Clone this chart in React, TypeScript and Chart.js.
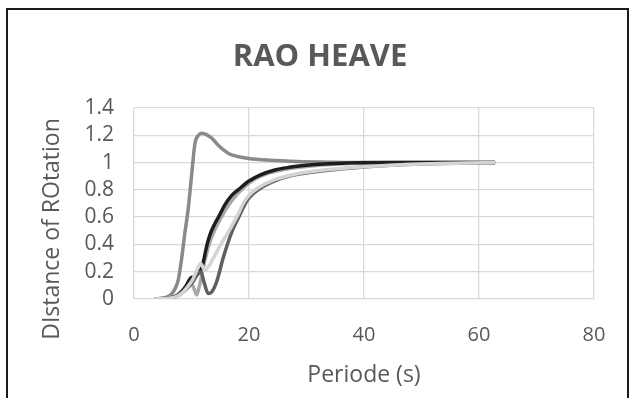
import React, { useEffect, useRef } from "react";
import { Chart, registerables } from "chart.js";

Chart.register(...registerables);

// Series: medium gray (resonance peak)
const peakPeriod = [3.5, 5, 6, 6.6, 7.2, 7.7, 8.3, 8.8, 9.4, 10, 10.6, 11.2, 11.8, 12.6, 13.5, 14.7, 15.8, 16.6, 18, 20, 23, 27, 32, 40, 50, 62.8];
const peakRao = [0, 0.005, 0.02, 0.04, 0.08, 0.14, 0.3, 0.47, 0.65, 0.9, 1.14, 1.2, 1.215, 1.205, 1.18, 1.125, 1.085, 1.063, 1.045, 1.03, 1.018, 1.01, 1.004, 1.0, 1.0, 1.0];

// Series: black
const blackPeriod = [3.5, 6, 7, 8, 9, 9.5, 10, 10.6, 11.2, 11.7, 12.1, 12.6, 13.2, 14.1, 14.7, 15.8, 17, 18.1, 20, 22, 24.5, 27, 30, 33, 37, 45, 62.8];
const blackRao = [0, 0.005, 0.015, 0.04, 0.09, 0.13, 0.16, 0.16, 0.19, 0.22, 0.28, 0.38, 0.47, 0.555, 0.6, 0.69, 0.76, 0.8, 0.865, 0.91, 0.946, 0.965, 0.98, 0.99, 0.997, 1.0, 1.0];

// Series: silver (dip near 11 s)
const silverPeriod = [3.5, 6, 7.5, 8.5, 9.3, 9.9, 10.4, 10.9, 11.4, 12, 12.6, 13.3, 14.2, 15.2, 16.5, 18, 20, 22, 25, 30, 36, 45, 62.8];
const silverRao = [0, 0.005, 0.03, 0.07, 0.11, 0.12, 0.08, 0.03, 0.1, 0.22, 0.33, 0.43, 0.52, 0.6, 0.69, 0.77, 0.85, 0.9, 0.94, 0.972, 0.99, 0.998, 1.0];

// Series: dark gray (dip near 13 s)
const darkPeriod = [3.5, 6, 7.5, 8.5, 9.5, 10.3, 11, 11.6, 12.2, 12.9, 13.5, 14.4, 15.5, 16.4, 17.2, 18.1, 19, 20, 21.6, 24.5, 28, 33, 40, 50, 62.8];
const darkRao = [0, 0.005, 0.02, 0.05, 0.09, 0.13, 0.18, 0.2, 0.12, 0.04, 0.05, 0.13, 0.3, 0.42, 0.51, 0.59, 0.67, 0.74, 0.8, 0.865, 0.91, 0.94, 0.968, 0.99, 1.0];

// Series: light gray (small bump near 11.6 s)
const lightPeriod = [3.5, 6, 7.5, 8.5, 9.5, 10.3, 11, 11.6, 12.3, 13, 13.8, 14.7, 15.5, 16.4, 17.2, 18.1, 19, 20, 21.6, 24.5, 28, 33, 40, 50, 62.8];
const lightRao = [0, 0.005, 0.02, 0.05, 0.1, 0.15, 0.22, 0.26, 0.21, 0.24, 0.3, 0.37, 0.43, 0.49, 0.55, 0.62, 0.7, 0.76, 0.815, 0.875, 0.915, 0.945, 0.97, 0.99, 1.0];

const chartTitle = "RAO HEAVE";
const xTitle = "Periode (s)";
const yTitle = "DIstance of ROtation";

const FONT = "'Open Sans', sans-serif";
const TEXT = "#595959";

function zip(xs: number[], ys: number[]) {
  return xs.map((x, i) => ({ x, y: ys[i] }));
}

const titlesPlugin = {
  id: "excelTitles",
  afterDraw(chart: any) {
    const ctx = chart.ctx;
    ctx.save();
    ctx.fillStyle = TEXT;
    ctx.textAlign = "center";
    ctx.textBaseline = "middle";
    ctx.font = `bold 31px ${FONT}`;
    ctx.fillText(chartTitle, 320, 57);
    ctx.translate(52, 229);
    ctx.rotate(-Math.PI / 2);
    ctx.font = `23px ${FONT}`;
    ctx.fillText(yTitle, 0, 0);
    ctx.restore();
  },
};

export default function App() {
  const ref = useRef<HTMLCanvasElement>(null);
  useEffect(() => {
    const line = (xs: number[], ys: number[], color: string) => ({
      data: zip(xs, ys),
      showLine: true,
      fill: false,
      borderColor: color,
      backgroundColor: color,
      borderWidth: 3.5,
      pointRadius: 0,
      cubicInterpolationMode: "monotone" as const,
    });
    const chart = new Chart(ref.current!, {
      type: "scatter",
      data: {
        datasets: [
          line(lightPeriod, lightRao, "#d4d4d4"),
          line(darkPeriod, darkRao, "#606060"),
          line(blackPeriod, blackRao, "#1e1e1e"),
          line(silverPeriod, silverRao, "#a8a8a8"),
          line(peakPeriod, peakRao, "#8a8a8a"),
        ],
      },
      plugins: [titlesPlugin],
      options: {
        animation: false,
        responsive: false,
        devicePixelRatio: 1,
        layout: { padding: { left: 0, right: 37, top: 108, bottom: 0 } },
        plugins: {
          legend: { display: false },
          tooltip: { enabled: false },
          title: { display: false },
        },
        scales: {
          x: {
            type: "linear",
            min: 0,
            max: 80,
            ticks: { stepSize: 20, autoSkip: false, color: TEXT, font: { family: FONT, size: 20 }, padding: 24 },
            grid: { color: "#d9d9d9", lineWidth: 1.3, drawTicks: false },
            border: { display: false },
            title: {
              display: true,
              text: xTitle,
              color: TEXT,
              font: { family: FONT, size: 23 },
              padding: { top: 0, bottom: 9 },
            },
            afterFit: (s: any) => {
              s.height = 99;
            },
          },
          y: {
            type: "linear",
            min: 0,
            max: 1.4,
            ticks: {
              stepSize: 0.2,
              autoSkip: false,
              color: TEXT,
              font: { family: FONT, size: 21 },
              padding: 20,
              callback: (v: any) => String(Math.round(Number(v) * 10) / 10),
            },
            grid: { color: "#d9d9d9", lineWidth: 1.3, drawTicks: false },
            border: { display: false },
            afterFit: (s: any) => {
              s.width = 134;
            },
          },
        },
      },
    } as any);
    return () => chart.destroy();
  }, []);
  return (
    <div style={{ position: "fixed", left: 0, top: 0, width: 631, height: 398, background: "#fff", overflow: "hidden" }}>
      <canvas ref={ref} width={631} height={398} style={{ display: "block", width: 631, height: 398 }} />
      <div
        style={{
          position: "absolute",
          left: 6,
          top: 8,
          width: 619,
          height: 400,
          border: "2px solid #1a1a1a",
          pointerEvents: "none",
        }}
      />
    </div>
  );
}
